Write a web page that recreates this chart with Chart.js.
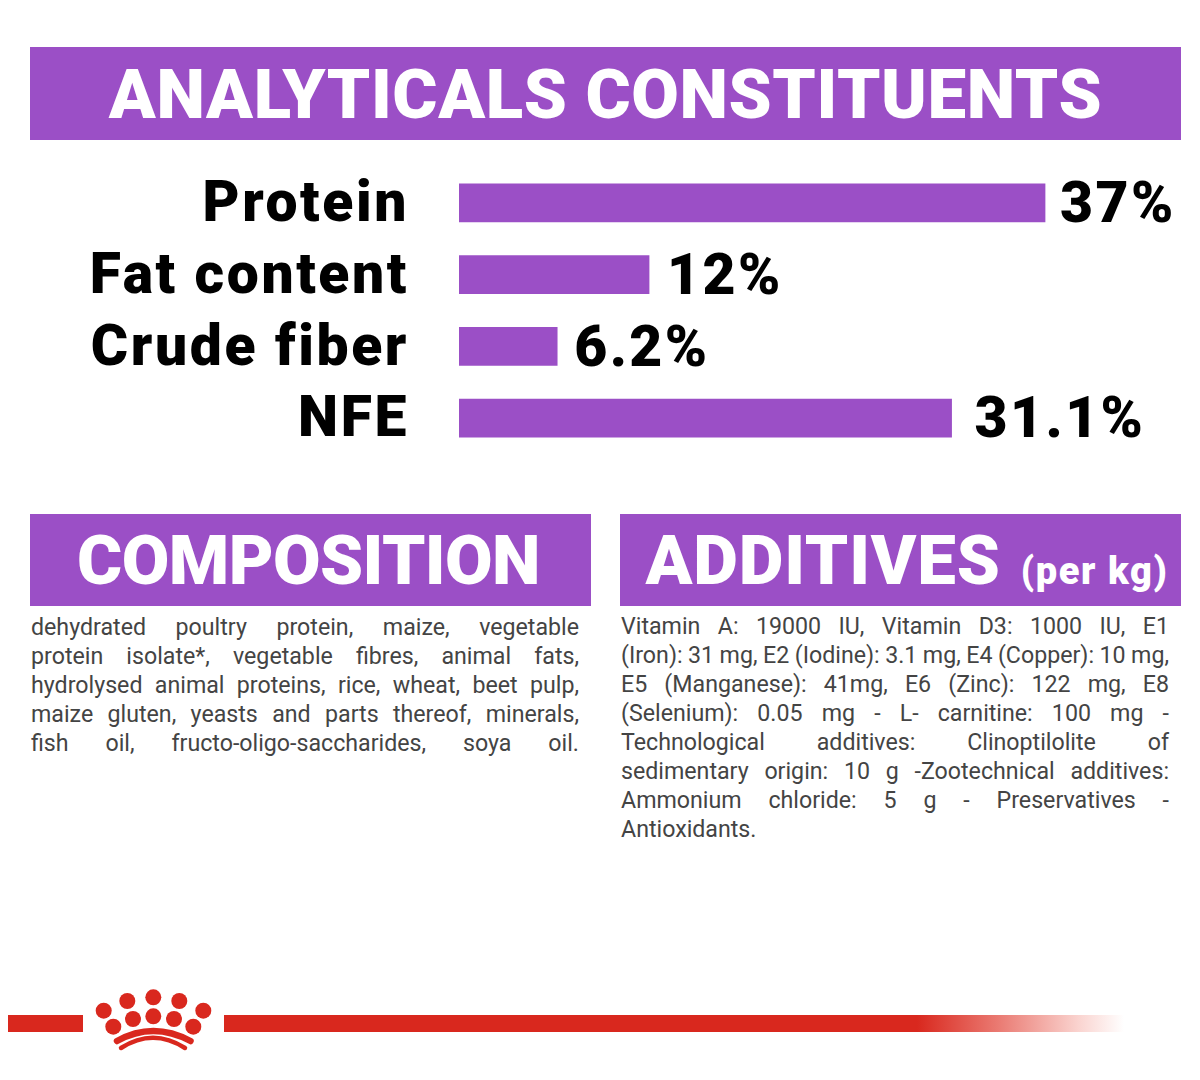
<!DOCTYPE html>
<html>
<head>
<meta charset="utf-8">
<title>Analyticals constituents</title>
<script src="https://cdn.jsdelivr.net/npm/chart.js@4"></script>
<style>
  html, body { margin: 0; padding: 0; background: #fff; }
  #page { position: relative; width: 1200px; height: 1080px; overflow: hidden; font-family: Roboto, sans-serif; }
  .banner { position: absolute; background: #9b4fc6; color: #fff; font-weight: 900; text-align: center; white-space: nowrap; box-sizing: border-box; }
  #bannerTop { left: 30px; top: 47px; width: 1151px; height: 93px; line-height: 95px; font-size: 69px; letter-spacing: 0.6px; }
  #bannerComp { left: 30px; top: 514px; width: 561px; height: 92px; line-height: 93px; font-size: 69px; letter-spacing: -0.6px; padding-right: 4px; }
  #bannerAdd { left: 620px; top: 514px; width: 561px; height: 92px; line-height: 93px; font-size: 69px; letter-spacing: 0.8px; padding-left: 13px; }
  #bannerAdd small { font-size: 38px; letter-spacing: 1.6px; margin-left: 2px; }
  .body { position: absolute; color: #444; font-size: 23.2px; line-height: 29px; text-align: justify; text-align-last: justify; }
  #compText { left: 31px; top: 613px; width: 548px; }
  #addText { left: 621px; top: 612px; width: 548px; }
  #addText .last { text-align-last: left; }
  #addText .tight { word-spacing: -3.5px; }
  #chartBox { position: absolute; left: 0; top: 167px; width: 1200px; height: 287px; }
  #logo { position: absolute; left: 0; top: 980px; }
  #lineRight { position: absolute; left: 224px; top: 1015px; width: 900px; height: 17px;
    background: linear-gradient(to right, #d9281e 0%, #d9281e 77%, #ea7a72 86%, #fad4d0 95%, #ffffff 100%); }
</style>
</head>
<body>
<div id="page">
  <div class="banner" id="bannerTop">ANALYTICALS CONSTITUENTS</div>
  <div id="chartBox"><canvas id="chart"></canvas></div>
  <div class="banner" id="bannerComp">COMPOSITION</div>
  <div class="banner" id="bannerAdd">ADDITIVES <small>(per kg)</small></div>
  <div class="body" id="compText"></div>
  <div class="body" id="addText"></div>
  <div id="lineRight"></div>
  <svg id="logo" width="224" height="90" viewBox="0 980 224 90">
    <rect x="8" y="1015" width="75" height="17" fill="#d9281e"/>
    <g fill="#d9281e">
      <circle cx="103.7" cy="1010.7" r="8"/>
      <circle cx="127.3" cy="1001" r="8"/>
      <circle cx="153.3" cy="997.3" r="8"/>
      <circle cx="179.3" cy="1001" r="8"/>
      <circle cx="203.3" cy="1010.7" r="8"/>
      <circle cx="113.3" cy="1026.7" r="8"/>
      <circle cx="133" cy="1019" r="8"/>
      <circle cx="153.3" cy="1016.3" r="8"/>
      <circle cx="174" cy="1019" r="8"/>
      <circle cx="193.3" cy="1026.7" r="8"/>
    </g>
    <path d="M117 1041 Q153 1021 190.5 1041" fill="none" stroke="#d9281e" stroke-width="6.5" stroke-linecap="round"/>
    <path d="M121 1048 Q153 1027.5 185 1048" fill="none" stroke="#d9281e" stroke-width="4.5" stroke-linecap="round"/>
  </svg>
</div>
<script>
const categories = ['Protein', 'Fat content', 'Crude fiber', 'NFE'];
const values = [37, 12, 6.2, 31.1];
const valueLabels = ['37%', '12%', '6.2%', '31.1%'];

const compositionLines = [
  'dehydrated poultry protein, maize, vegetable',
  'protein isolate*, vegetable fibres, animal fats,',
  'hydrolysed animal proteins, rice, wheat, beet pulp,',
  'maize gluten, yeasts and parts thereof, minerals,',
  'fish oil, fructo-oligo-saccharides, soya oil.'
];
const additiveLines = [
  'Vitamin A: 19000 IU, Vitamin D3: 1000 IU, E1',
  '(Iron): 31 mg, E2 (Iodine): 3.1 mg, E4 (Copper): 10 mg,',
  'E5 (Manganese): 41mg, E6 (Zinc): 122 mg, E8',
  '(Selenium): 0.05 mg - L- carnitine: 100 mg -',
  'Technological additives: Clinoptilolite of',
  'sedimentary origin: 10 g -Zootechnical additives:',
  'Ammonium chloride: 5 g - Preservatives -',
  'Antioxidants.'
];

function fillLines(id, lines) {
  const box = document.getElementById(id);
  lines.forEach(line => {
    const d = document.createElement('div');
    d.textContent = line;
    box.appendChild(d);
  });
  return box;
}
fillLines('compText', compositionLines);
const addBox = fillLines('addText', additiveLines);
addBox.children[1].className = 'tight';
addBox.lastChild.className = 'last';

const labelFont = '900 57px Roboto, sans-serif';
const labelGaps = [15, 18, 17, 23];

// wider letters on the axis labels, and the value text at the end of each bar
const valueLabelPlugin = {
  id: 'valueLabels',
  beforeDraw(chart) {
    chart.ctx.letterSpacing = '2.6px';
  },
  afterDatasetsDraw(chart) {
    const ctx = chart.ctx;
    const bars = chart.getDatasetMeta(0).data;
    ctx.save();
    ctx.font = labelFont;
    ctx.letterSpacing = '2.4px';
    ctx.fillStyle = '#000';
    ctx.textAlign = 'left';
    ctx.textBaseline = 'middle';
    bars.forEach((bar, i) => {
      ctx.fillText(valueLabels[i], bar.x + labelGaps[i], bar.y + 5);
    });
    ctx.restore();
  }
};

new Chart(document.getElementById('chart'), {
  type: 'bar',
  data: {
    labels: categories,
    datasets: [{
      data: values,
      backgroundColor: '#9b4fc6',
      barThickness: 38
    }]
  },
  options: {
    indexAxis: 'y',
    responsive: true,
    maintainAspectRatio: false,
    animation: false,
    layout: { padding: { left: 0, right: 12.4, top: 0, bottom: 0 } },
    plugins: { legend: { display: false }, tooltip: { enabled: false } },
    scales: {
      x: { display: false, min: 0, max: 46 },
      y: {
        afterFit(axis) {
          axis.width = 459;
          // the big labels would otherwise squeeze the plot height
          axis.paddingTop = 0;
          axis.paddingBottom = 0;
        },
        grid: { drawOnChartArea: false, drawTicks: true, tickLength: 50, tickColor: 'transparent' },
        border: { display: false },
        ticks: { color: '#000', padding: 0, labelOffset: 4, font: { family: 'Roboto, sans-serif', size: 57, weight: '900' } }
      }
    }
  },
  plugins: [valueLabelPlugin]
});
</script>
</body>
</html>
